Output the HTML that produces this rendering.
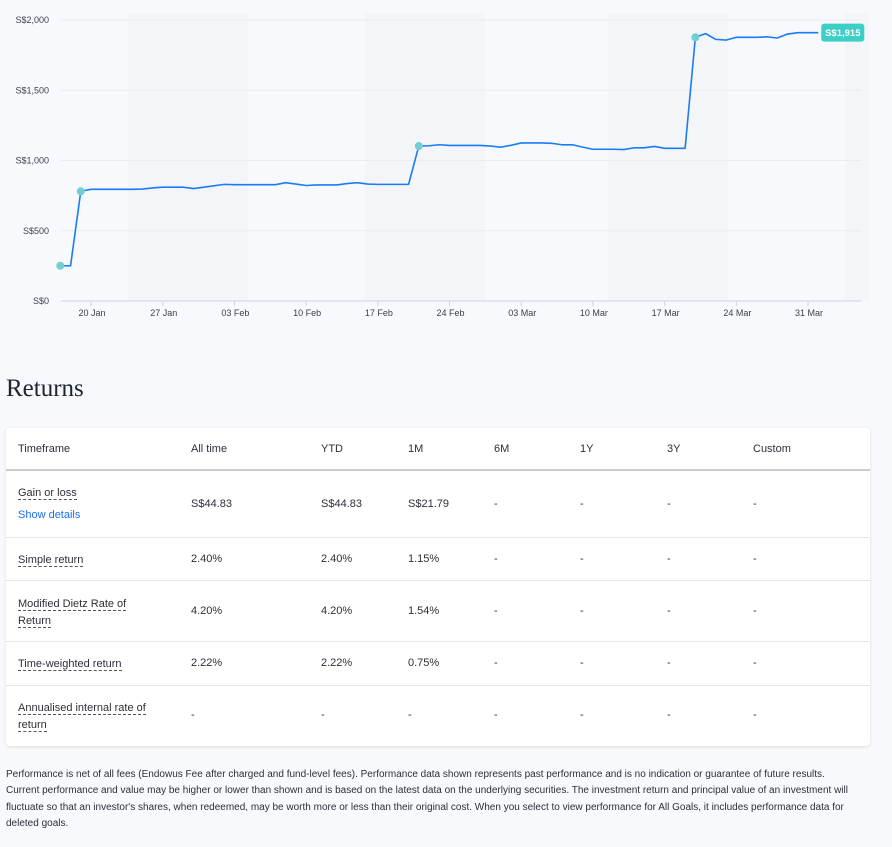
<!DOCTYPE html>
<html><head><meta charset="utf-8">
<style>
html,body{margin:0;padding:0;background:#f8f9fc;width:892px;height:847px;overflow:hidden;font-family:"Liberation Sans",sans-serif;color:#2b2f3a}
#chart{position:absolute;left:0;top:0}
h2{position:absolute;left:6px;top:375px;margin:0;font-family:"Liberation Serif",serif;font-weight:normal;font-size:25px;color:#1f2433}
.card{position:absolute;left:6px;top:428px;width:864px;height:318px;background:#fff;border-radius:4px;box-shadow:0 1px 3px rgba(0,0,0,.12)}
.row{position:absolute;left:0;width:864px;border-bottom:1px solid #e3e5ea}
.row.h{border-bottom:2px solid #c9ccd4}
.c{position:absolute;font-size:11px;color:#2b2f3a}
.u{border-bottom:1px dashed #555;line-height:15px}
.foot{position:absolute;left:6px;top:767px;width:852px;font-size:10px;line-height:16.4px;color:#2b2f3a}
</style></head><body>
<svg id="chart" width="892" height="330"></svg>
<h2>Returns</h2>
<div class="card" id="card"></div>
<div class="foot">Performance is net of all fees (Endowus Fee after charged and fund-level fees). Performance data shown represents past performance and is no indication or guarantee of future results. Current performance and value may be higher or lower than shown and is based on the latest data on the underlying securities. The investment return and principal value of an investment will fluctuate so that an investor's shares, when redeemed, may be worth more or less than their original cost. When you select to view performance for All Goals, it includes performance data for deleted goals.</div>
<script>
const yTicks=[0,500,1000,1500,2000];
const yTickLabels=["S$0","S$500","S$1,000","S$1,500","S$2,000"];
const xTickDays=[3,10,17,24,31,38,45,52,59,66,73];
const xTickLabels=["20 Jan","27 Jan","03 Feb","10 Feb","17 Feb","24 Feb","03 Mar","10 Mar","17 Mar","24 Mar","31 Mar"];
const values=[251,250,781,795,795,795,795,795,797,805,810,810,810,800,810,820,830,828,828,828,828,828,842,832,822,826,826,826,836,842,832,830,830,830,830,1103,1105,1112,1107,1107,1107,1107,1103,1095,1108,1125,1125,1125,1122,1112,1112,1095,1080,1080,1080,1078,1090,1090,1100,1087,1087,1087,1877,1903,1862,1857,1877,1877,1877,1880,1872,1900,1910,1910,1910];
const markerDays=[0,2,35,62];
const lastLabel="S$1,915";
const NS="http://www.w3.org/2000/svg";
const svg=document.getElementById('chart');
const X=d=>60.3+d*10.243;
const Y=v=>301-v*0.1405;
function mk(t,a){const e=document.createElementNS(NS,t);for(const k in a)e.setAttribute(k,a[k]);svg.appendChild(e);return e;}
[[128,248],[365,485],[608,728],[845,869]].forEach(b=>{const r=mk('rect',{x:b[0],y:13,width:b[1]-b[0],height:288,fill:'#f4f5f8'});

});
yTicks.forEach((t,i)=>{const l=mk('line',{x1:61,x2:861,y1:Y(t),y2:Y(t),stroke:t===0?'#cdd3e0':'#eaecf0','stroke-width':1});


const tx=mk('text',{x:49,y:Y(t)+3,'text-anchor':'end','font-size':'9','fill':'#3a3f4c','font-family':'Liberation Sans, sans-serif'});tx.textContent=yTickLabels[i];

});
xTickDays.forEach((d,i)=>{const l=mk('line',{x1:X(d),x2:X(d),y1:301,y2:306,stroke:'#cdd3e0'});


const tx=mk('text',{x:X(d)+1,y:316,'text-anchor':'middle','font-size':'9','fill':'#3a3f4c','font-family':'Liberation Sans, sans-serif'});tx.textContent=xTickLabels[i];

});
const p=mk('polyline',{points:values.map((v,i)=>X(i)+','+Y(v)).join(' '),fill:'none',stroke:'#1a7cf5','stroke-width':1.6,'stroke-linejoin':'round'});


markerDays.forEach(d=>{const c=mk('circle',{cx:X(d),cy:Y(values[d]),r:4,fill:'#6fcfd3'});

});
const last=values.length-1;
const lb=mk('rect',{x:X(last)+3,y:Y(values[last])-9,width:43,height:18,rx:3,fill:'#3ccfc5'});


const lt=mk('text',{x:X(last)+24.5,y:Y(values[last])+3.5,'text-anchor':'middle','font-size':'9.5','font-weight':'bold','fill':'#fff','font-family':'Liberation Sans, sans-serif'});lt.textContent=lastLabel;



const cols=[12,185,315,402,488,574,661,747];
const headers=["Timeframe","All time","YTD","1M","6M","1Y","3Y","Custom"];
const rows=[
 {top:43,h:67,label:"Gain or loss",vals:["S$44.83","S$44.83","S$21.79","-","-","-","-"]},
 {top:110,h:43,label:"Simple return",vals:["2.40%","2.40%","1.15%","-","-","-","-"]},
 {top:153,h:61,label:"Modified Dietz Rate of<br>Return",vals:["4.20%","4.20%","1.54%","-","-","-","-"]},
 {top:214,h:44,label:"Time-weighted return",vals:["2.22%","2.22%","0.75%","-","-","-","-"]},
 {top:258,h:60,label:"Annualised internal rate of<br>return",vals:["-","-","-","-","-","-","-"]}];
const card=document.getElementById('card');
let html='<div class="row h" style="top:0;height:41px">';
headers.forEach((h,i)=>{html+=`<div class="c" style="left:${cols[i]}px;top:15px">${h}</div>`;});
html+='</div>';
rows.forEach((r,ri)=>{
 const last=ri===rows.length-1;
 html+=`<div class="row" style="top:${r.top}px;height:${r.h-1}px;${last?'border-bottom:none':''}">`;
 if(ri===0){
  html+=`<div class="c" style="left:${cols[0]}px;top:15px"><span class="u">${r.label}</span></div>`;
  html+=`<div class="c" style="left:${cols[0]}px;top:38px;color:#1a6ff5">Show details</div>`;
 } else if(r.label.includes('<br>')){
  const parts=r.label.split('<br>');
  html+=`<div class="c" style="left:${cols[0]}px;top:${r.h/2-16}px;line-height:17px"><span class="u">${parts[0]}</span><br><span class="u">${parts[1]}</span></div>`;
 } else {
  html+=`<div class="c" style="left:${cols[0]}px;top:${r.h/2-7}px"><span class="u">${r.label}</span></div>`;
 }
 r.vals.forEach((v,i)=>{html+=`<div class="c" style="left:${cols[i+1]}px;top:${r.h/2-7}px">${v}</div>`;});
 html+='</div>';
});
card.innerHTML=html;
</script>
</body></html>
